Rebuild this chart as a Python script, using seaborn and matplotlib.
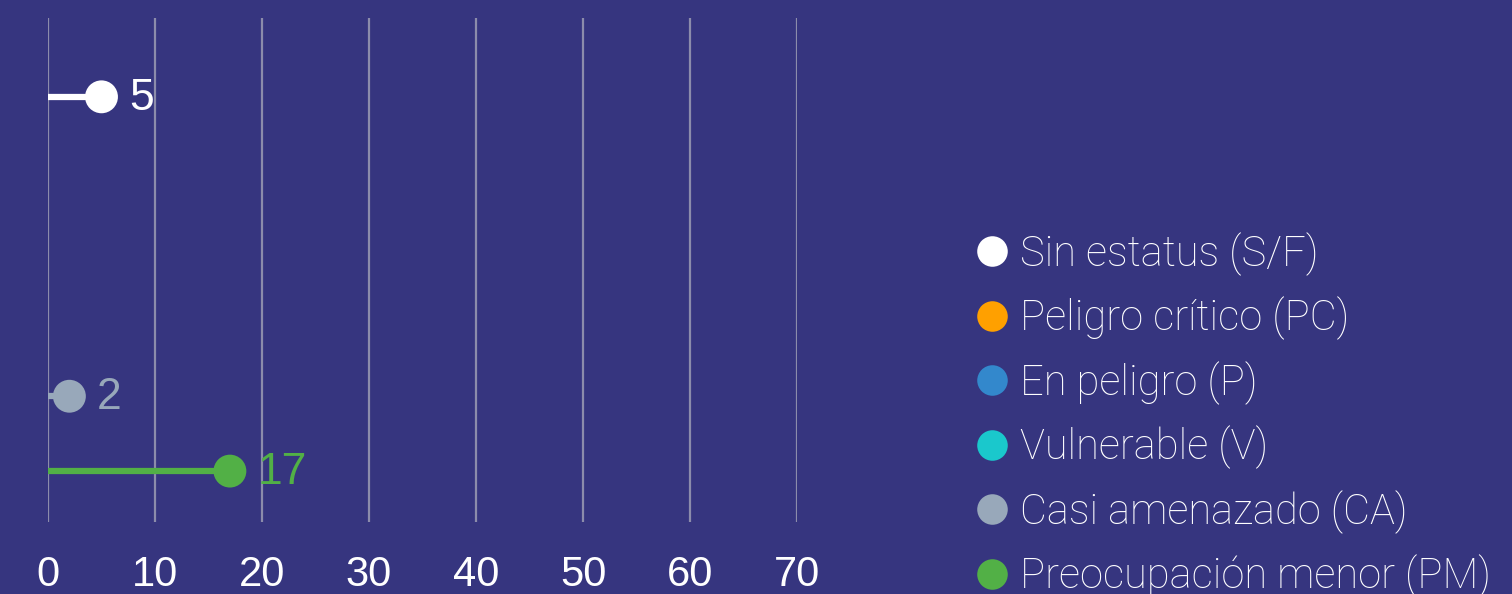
import matplotlib
matplotlib.use("Agg")
import matplotlib.pyplot as plt
from matplotlib.lines import Line2D
import seaborn as sns
import pandas as pd

# data
categories = ["Sin estatus (S/F)", "Peligro crítico (PC)", "En peligro (P)",
              "Vulnerable (V)", "Casi amenazado (CA)", "Preocupación menor (PM)"]
values = [5, 0, 0, 0, 2, 17]
colors = ["#ffffff", "#ffa000", "#3388cc", "#1ac8cc", "#98a8ba", "#52b046"]
x_ticks = [0, 10, 20, 30, 40, 50, 60, 70]

BG = "#36357f"
GRID = "#8c8cab"

df = pd.DataFrame({"cat": categories, "value": values, "color": colors})
df["pos"] = range(len(df))
shown = df[df["value"] > 0]

sns.set_theme(style="white")
plt.rcParams["font.family"] = ["Liberation Sans", "DejaVu Sans"]

fig = plt.figure(figsize=(15.12, 5.94), dpi=100, facecolor=BG)
ax = fig.add_axes([48 / 1512, 72 / 594, 749 / 1512, 504 / 594])
ax.set_facecolor(BG)

# grid lines
for t in x_ticks:
    ax.axvline(t, color=GRID, lw=1.6, zorder=0)

# stems
ax.hlines(shown["pos"], 0, shown["value"], colors=shown["color"], lw=4.5, zorder=2)

# dots
sns.scatterplot(data=shown, x="value", y="pos", hue="cat",
                palette=dict(zip(categories, colors)), s=560,
                edgecolor="none", legend=False, ax=ax, zorder=3)

# value labels
for _, r in shown.iterrows():
    ax.annotate(str(r["value"]), (r["value"], r["pos"]), xytext=(20, -1),
                textcoords="offset points", va="center", ha="left",
                fontsize=32, color=r["color"], annotation_clip=False)

ax.set_xlim(0, 70)
ax.set_ylim(5.68, -1.053)
ax.set_xticks(x_ticks)
ax.set_yticks([])
ax.set_xlabel("")
ax.set_ylabel("")
ax.tick_params(axis="x", length=0, pad=24, labelsize=30, labelcolor="white")
sns.despine(ax=ax, left=True, bottom=True)

# legend
handles = [Line2D([0], [0], marker="o", ls="none", markersize=22,
                  markerfacecolor=c, markeredgecolor="none") for c in colors]
leg = fig.legend(handles, categories, loc="upper left",
                 bbox_to_anchor=(971 / 1512, 1 - 232 / 594), frameon=False,
                 handlelength=1.0, handletextpad=0.18, labelspacing=0.5,
                 borderpad=0, borderaxespad=0,
                 prop={"family": "Roboto", "size": 30, "weight": "light"})
for txt in leg.get_texts():
    txt.set_color("white")

fig.savefig("out.png", dpi=100, facecolor=BG)
